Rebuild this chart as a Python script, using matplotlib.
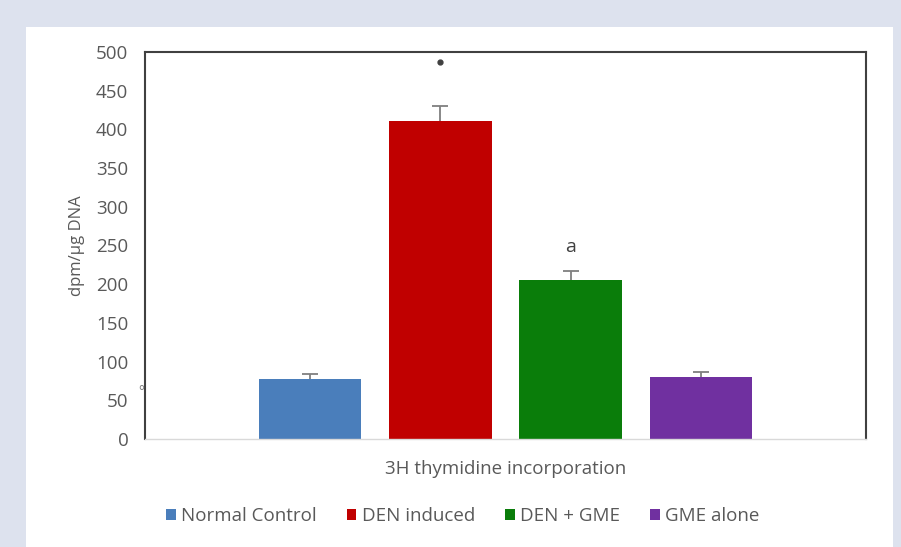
import matplotlib.pyplot as plt
from matplotlib.patches import Rectangle

groups = ['Normal Control', 'DEN induced', 'DEN + GME', 'GME alone']
values = [77, 411, 205, 80]
errors = [7, 19, 12, 6]
colors = ['#4a7ebb', '#c00000', '#0a7d0a', '#7030a0']
marks = ['', '*', 'a', '']

W, H = 901, 547
plt.rcParams['font.family'] = ['Open Sans', 'DejaVu Sans']
fig = plt.figure(figsize=(W / 100, H / 100), dpi=100)
fig.patch.set_facecolor('#dde2ee')
fig.patches.append(Rectangle((26 / W, 0), (893 - 26) / W, (H - 27) / H,
                             transform=fig.transFigure, facecolor='white',
                             edgecolor='none', zorder=-5))

ax = fig.add_axes([145 / W, 1 - 439 / H, (866 - 145) / W, (439 - 52) / H])
ax.set_zorder(2)
x = list(range(len(groups)))
tops = [v + e for v, e in zip(values, errors)]
ax.bar(x, values, width=0.785, color=colors, label=groups, zorder=2)
# upper error bars only, like the Excel original
ax.vlines(x, values, tops, color='#7f7f7f', linewidth=1.3, zorder=3)
ax.scatter(x, tops, marker='_', s=120, color='#7f7f7f', linewidths=1.3, zorder=3)
for i, m in enumerate(marks):
    if m == '*':
        ax.plot(i, 487, 'o', color='#404040', markersize=3.5, zorder=3)
    elif m:
        ax.text(i, 248, m, ha='center', va='center', fontsize=14, color='#404040')

ax.set_xlim(-1.27, 4.27)
ax.set_ylim(0, 500)
ax.set_yticks(range(0, 501, 50))
ax.set_xticks([])
ax.tick_params(axis='y', length=0, pad=12, labelsize=13.5, labelcolor='#595959')
for s in ['top', 'left', 'right']:
    ax.spines[s].set_color('#404040')
    ax.spines[s].set_linewidth(1.5)
ax.spines['bottom'].set_color('#d9d9d9')
ax.spines['bottom'].set_linewidth(1)
ax.set_ylabel('dpm/µg DNA', fontsize=12, color='#595959', labelpad=8)
ax.set_xlabel('3H thymidine incorporation', fontsize=13.5, color='#595959', labelpad=15)
fig.text(141 / W, 1 - 393 / H, '°', fontsize=10, color='#808080', ha='center', va='center',
         zorder=3)

ax.legend(loc='center', bbox_to_anchor=(463 / W, 1 - 516 / H), bbox_transform=fig.transFigure,
          ncol=4, frameon=False, fontsize=13.5, labelcolor='#595959',
          handlelength=0.5, handleheight=0.5, handletextpad=0.3, columnspacing=1.6)

fig.savefig('out.png', dpi=100, facecolor=fig.get_facecolor())
